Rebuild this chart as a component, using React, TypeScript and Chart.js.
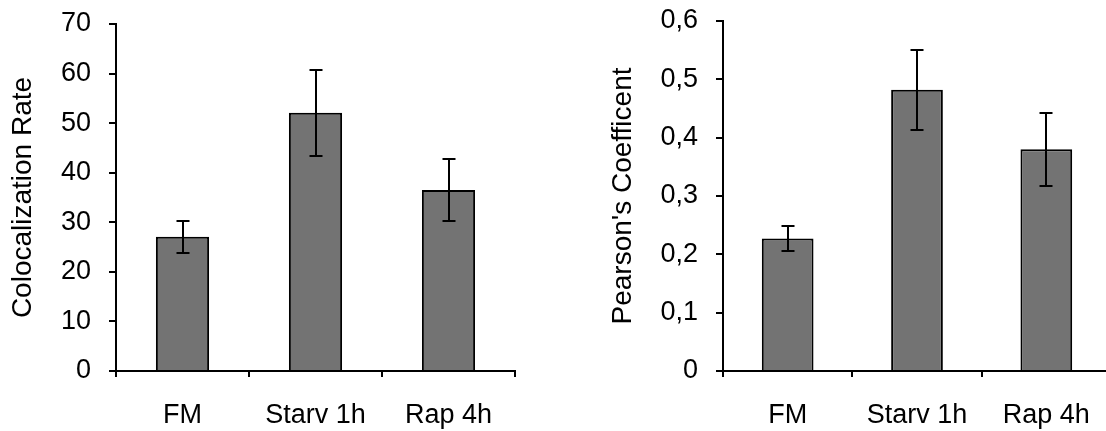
import React, { useEffect, useRef } from "react";
import { Chart, registerables } from "chart.js";

Chart.register(...registerables);

const categories = ["FM", "Starv 1h", "Rap 4h"];

const colocRate = [27.1, 52.1, 36.5];
const colocErr = [3.2, 8.7, 6.2];
const colocTickLabels = ["0", "10", "20", "30", "40", "50", "60", "70"];

const pearson = [0.227, 0.482, 0.38];
const pearsonErr = [0.021, 0.069, 0.062];
const pearsonTickLabels = ["0", "0,1", "0,2", "0,3", "0,4", "0,5", "0,6"];

const FONT = "'Liberation Sans', Arial, Helvetica, sans-serif";

function makeErrorBars(errs: number[]) {
  return {
    id: "errorBars",
    afterDatasetsDraw(chart: any) {
      const ctx = chart.ctx;
      const meta = chart.getDatasetMeta(0);
      const yScale = chart.scales.y;
      const values = chart.data.datasets[0].data as number[];
      ctx.save();
      ctx.strokeStyle = "#000";
      ctx.lineWidth = 2;
      meta.data.forEach((bar: any, i: number) => {
        const x = Math.round(bar.x);
        const yTop = Math.round(yScale.getPixelForValue(values[i] + errs[i]));
        const yBot = Math.round(yScale.getPixelForValue(values[i] - errs[i]));
        ctx.beginPath();
        ctx.moveTo(x, yTop);
        ctx.lineTo(x, yBot);
        ctx.moveTo(x - 6.5, yTop);
        ctx.lineTo(x + 6.5, yTop);
        ctx.moveTo(x - 6.5, yBot);
        ctx.lineTo(x + 6.5, yBot);
        ctx.stroke();
      });
      ctx.restore();
    },
  };
}

type PanelProps = {
  values: number[];
  errs: number[];
  tickLabels: string[];
  max: number;
  step: number;
  title: string;
  yAxisWidth: number;
  titlePad: number;
  padTop: number;
  padRight: number;
};

function Panel(p: PanelProps) {
  const ref = useRef<HTMLCanvasElement | null>(null);
  useEffect(() => {
    if (!ref.current) return;
    const chart = new Chart(ref.current, {
      type: "bar",
      data: {
        labels: categories,
        datasets: [
          {
            data: p.values,
            backgroundColor: "#737373",
            borderColor: "#000",
            borderWidth: 2,
            categoryPercentage: 1,
            barPercentage: 0.4,
          },
        ],
      },
      options: {
        animation: false,
        responsive: false,
        maintainAspectRatio: false,
        layout: { padding: { top: p.padTop, right: p.padRight, left: 0, bottom: 0 } },
        plugins: { legend: { display: false }, tooltip: { enabled: false } },
        scales: {
          x: {
            grid: {
              display: true,
              drawOnChartArea: false,
              drawTicks: true,
              tickLength: 6,
              color: "#000",
              lineWidth: 2,
              offset: true,
            },
            border: { display: true, color: "#000", width: 2 },
            ticks: { padding: 22, color: "#000", font: { family: FONT, size: 27 } },
            afterFit: (s: any) => {
              s.height = 60;
              s.paddingLeft = 0;
              s.paddingRight = 0;
            },
          },
          y: {
            min: 0,
            max: p.max,
            ticks: {
              stepSize: p.step,
              padding: 18,
              color: "#000",
              font: { family: FONT, size: 27 },
              callback: (_v: any, i: number) => p.tickLabels[i],
            },
            grid: {
              display: true,
              drawOnChartArea: false,
              drawTicks: true,
              tickLength: 7,
              color: "#000",
              lineWidth: 2,
            },
            border: { display: true, color: "#000", width: 2 },
            title: {
              display: true,
              text: p.title,
              color: "#000",
              font: { family: FONT, size: 28 },
              padding: { top: p.titlePad, bottom: 0 },
            },
            afterFit: (s: any) => {
              s.width = p.yAxisWidth;
              s.paddingTop = 0;
              s.paddingBottom = 0;
            },
          },
        },
      },
      plugins: [makeErrorBars(p.errs)],
    } as any);
    return () => chart.destroy();
  }, []);
  return <canvas ref={ref} width={560} height={431} style={{ display: "block" }} />;
}

export default function App() {
  return (
    <div
      style={{
        position: "fixed",
        left: 0,
        top: 0,
        width: 1106,
        height: 431,
        overflow: "hidden",
        background: "#fff",
      }}
    >
      <div style={{ position: "absolute", left: 0, top: 0 }}>
        <Panel
          values={colocRate}
          errs={colocErr}
          tickLabels={colocTickLabels}
          max={70}
          step={10}
          title="Colocalization Rate"
          yAxisWidth={116}
          titlePad={6}
          padTop={24}
          padRight={45}
        />
      </div>
      <div style={{ position: "absolute", left: 560, top: 0 }}>
        <Panel
          values={pearson}
          errs={pearsonErr}
          tickLabels={pearsonTickLabels}
          max={0.6}
          step={0.1}
          title="Pearson's Coefficent"
          yAxisWidth={163}
          titlePad={46}
          padTop={21}
          padRight={9}
        />
      </div>
    </div>
  );
}
